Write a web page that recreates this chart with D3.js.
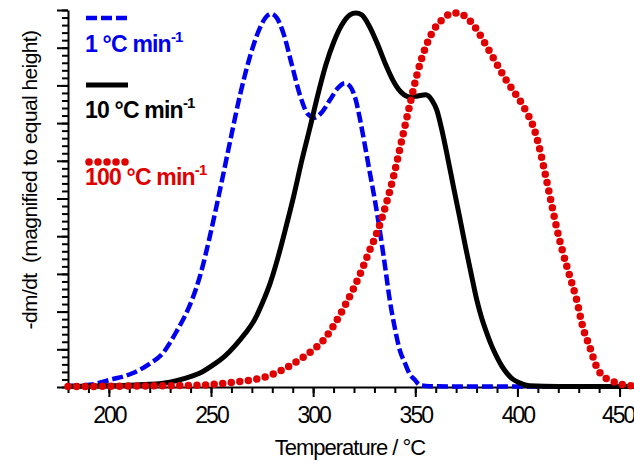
<!DOCTYPE html>
<html lang="en">
<head>
    <meta charset="UTF-8">
    <script src="https://d3js.org/d3.v7.min.js"></script>
    <style>
        body { margin: 0; background: #fff; }
        text { font-family: "Liberation Sans", Arial, sans-serif; white-space: pre; }
        .axis path, .axis line { stroke: #000; stroke-width: 2; }
        .legend text { font-weight: bold; font-size: 23px; letter-spacing: -0.8px; }
    </style>
</head>
<body>
<svg width="634" height="463" id="chart"></svg>
<script>
// 1 °C/min (blue dashed)
const t1 = [180, 190.8, 200.5, 211.8, 220.1, 226.5, 229.9, 233.3, 237.2, 240.7, 244.6, 249.5, 254.4, 259.3, 264.1, 269.0, 273.9, 276.9, 279.3, 282.2, 285.7, 289.6, 293.5, 297.4, 300.8, 304.3, 308.2, 312.1, 315.5, 318.0, 320.9, 322.8, 325.3, 327.7, 330.2, 332.6, 335.1, 337.5, 340.0, 342.4, 344.9, 347.3, 349.8, 352.2, 357, 380, 420, 460];
const v1 = [0.003, 0.006, 0.019, 0.037, 0.062, 0.090, 0.117, 0.149, 0.188, 0.231, 0.294, 0.401, 0.523, 0.650, 0.772, 0.875, 0.952, 0.981, 0.990, 0.979, 0.934, 0.854, 0.775, 0.724, 0.714, 0.729, 0.761, 0.793, 0.806, 0.798, 0.761, 0.714, 0.642, 0.570, 0.496, 0.416, 0.324, 0.231, 0.156, 0.098, 0.064, 0.034, 0.019, 0.005, 0.002, 0.001, 0.001, 0.001];

// 10 °C/min (black solid)
const t10 = [180, 200, 220.1, 229.9, 237.2, 244.6, 250.9, 256.8, 261.7, 266.6, 271.5, 275.4, 278.8, 282.7, 286.6, 290.6, 294.5, 298.4, 302.3, 306.2, 310.1, 314.0, 318.0, 320.9, 323.8, 327.7, 331.7, 335.6, 339.5, 343.4, 347.3, 351.2, 355.1, 358.1, 360.5, 363.0, 365.9, 368.8, 371.8, 374.7, 377.6, 380.1, 382.5, 385.0, 387.4, 389.9, 392.3, 394.8, 397.7, 401.1, 406.0, 420, 460];
const v10 = [0.001, 0.003, 0.007, 0.013, 0.023, 0.037, 0.058, 0.082, 0.109, 0.141, 0.180, 0.226, 0.273, 0.342, 0.422, 0.509, 0.602, 0.687, 0.775, 0.854, 0.915, 0.960, 0.987, 0.992, 0.987, 0.955, 0.907, 0.854, 0.809, 0.780, 0.769, 0.772, 0.775, 0.761, 0.735, 0.682, 0.607, 0.528, 0.448, 0.369, 0.294, 0.231, 0.183, 0.143, 0.109, 0.080, 0.056, 0.037, 0.021, 0.011, 0.003, 0.001, 0.001];

// 100 °C/min (red dotted)
const t100 = [180, 220, 244.6, 261.7, 275.4, 283.7, 290.1, 295.9, 299.9, 304.7, 309.6, 313.5, 317.0, 322.8, 327.7, 331.7, 335.6, 339.5, 343.4, 347.3, 351.2, 355.1, 359.0, 362.9, 366.9, 370.3, 374.2, 378.1, 382.0, 386.0, 389.9, 393.8, 397.7, 401.1, 404.5, 407.5, 410.4, 413.4, 416.3, 419.2, 422.2, 425.6, 429.0, 432.0, 435.4, 438.8, 441.7, 445.1, 450.0, 456.9];
const v100 = [0.001, 0.003, 0.005, 0.013, 0.025, 0.042, 0.061, 0.082, 0.098, 0.122, 0.159, 0.195, 0.231, 0.297, 0.363, 0.416, 0.483, 0.562, 0.655, 0.748, 0.836, 0.902, 0.947, 0.973, 0.989, 0.992, 0.984, 0.963, 0.931, 0.894, 0.857, 0.820, 0.788, 0.761, 0.729, 0.695, 0.642, 0.570, 0.496, 0.422, 0.358, 0.294, 0.231, 0.159, 0.106, 0.053, 0.029, 0.019, 0.008, 0.003];

const xMajor = [200, 250, 300, 350, 400, 450];
const legendLabels = ["1 °C min", "10 °C min", "100 °C min"];

const svg = d3.select("#chart");
const x = d3.scaleLinear().domain([180, 460]).range([68, 640]);
const y = d3.scaleLinear().domain([0, 1]).range([387, 10]);

// axes: minor + major ticks
const xMinor = d3.range(180, 461, 10);
svg.append("g").attr("class", "axis")
    .attr("transform", "translate(0,387)")
    .call(d3.axisBottom(x).tickValues(xMinor).tickSize(6).tickSizeOuter(0).tickFormat(""));
const xAx = svg.append("g").attr("class", "axis")
    .attr("transform", "translate(0,387)")
    .call(d3.axisBottom(x).tickValues(xMajor).tickSize(10).tickSizeOuter(0).tickPadding(10));
xAx.select(".domain").remove();
xAx.selectAll("text")
    .attr("fill", "#000")
    .style("font-size", "23px")
    .style("letter-spacing", "-2px")
    .attr("dx", d => d === 450 ? -2 : 0)
    .attr("dy", "0.71em");

const yMinor = d3.range(0, 1.001, 0.02);
const yMaj = d3.range(0, 1.001, 0.1);
svg.append("g").attr("class", "axis")
    .attr("transform", "translate(68,0)")
    .call(d3.axisLeft(y).tickValues(yMinor).tickSize(6).tickSizeOuter(0).tickFormat(""));
const yAx = svg.append("g").attr("class", "axis")
    .attr("transform", "translate(68,0)")
    .call(d3.axisLeft(y).tickValues(yMaj).tickSize(11).tickSizeOuter(0).tickFormat(""));
yAx.select(".domain").remove();

// axis titles
svg.append("text")
    .attr("x", 350).attr("y", 455)
    .attr("text-anchor", "middle")
    .style("font-size", "22px")
    .style("letter-spacing", "-1px")
    .text("Temperature / °C");

svg.append("text")
    .attr("transform", "translate(37,180) rotate(-90)")
    .attr("text-anchor", "middle")
    .style("font-size", "21px")
    .style("letter-spacing", "-0.6px")
    .text("-dm/dt  (magnified to equal height)");

// curves
const line = d3.line()
    .x(d => x(d[0]))
    .y(d => y(d[1]))
    .curve(d3.curveMonotoneX);

svg.append("path")
    .datum(d3.zip(t1, v1))
    .attr("d", line)
    .attr("fill", "none")
    .attr("stroke", "#0000ee")
    .attr("stroke-width", 4.5)
    .attr("stroke-dasharray", "11,4");

svg.append("path")
    .datum(d3.zip(t10, v10))
    .attr("d", line)
    .attr("fill", "none")
    .attr("stroke", "#000")
    .attr("stroke-width", 5);

svg.append("path")
    .datum(d3.zip(t100, v100))
    .attr("d", line)
    .attr("fill", "none")
    .attr("stroke", "#e00000")
    .attr("stroke-width", 7.5)
    .attr("stroke-linecap", "round")
    .attr("stroke-dasharray", "0,8.6");

// legend
const legend = svg.append("g").attr("class", "legend");
const colors = ["#0000ee", "#000", "#e00000"];
const dashes = ["11,4", null, "0,9"];
const widths = [4.5, 5, 7.5];
const lineY = [18, 85, 162];
const textY = [52, 118, 185];

legendLabels.forEach(function(lab, i) {
    legend.append("line")
        .attr("x1", i === 2 ? 89 : 86).attr("x2", i === 2 ? 126 : 128)
        .attr("y1", lineY[i]).attr("y2", lineY[i])
        .attr("stroke", colors[i])
        .attr("stroke-width", widths[i])
        .attr("stroke-dasharray", dashes[i])
        .attr("stroke-linecap", i === 2 ? "round" : "butt");
    const t = legend.append("text")
        .attr("x", 85).attr("y", textY[i])
        .attr("fill", colors[i]);
    t.append("tspan").text(lab);
    t.append("tspan").attr("dy", -10).style("font-size", "15px").text("-1");
});
</script>
</body>
</html>
